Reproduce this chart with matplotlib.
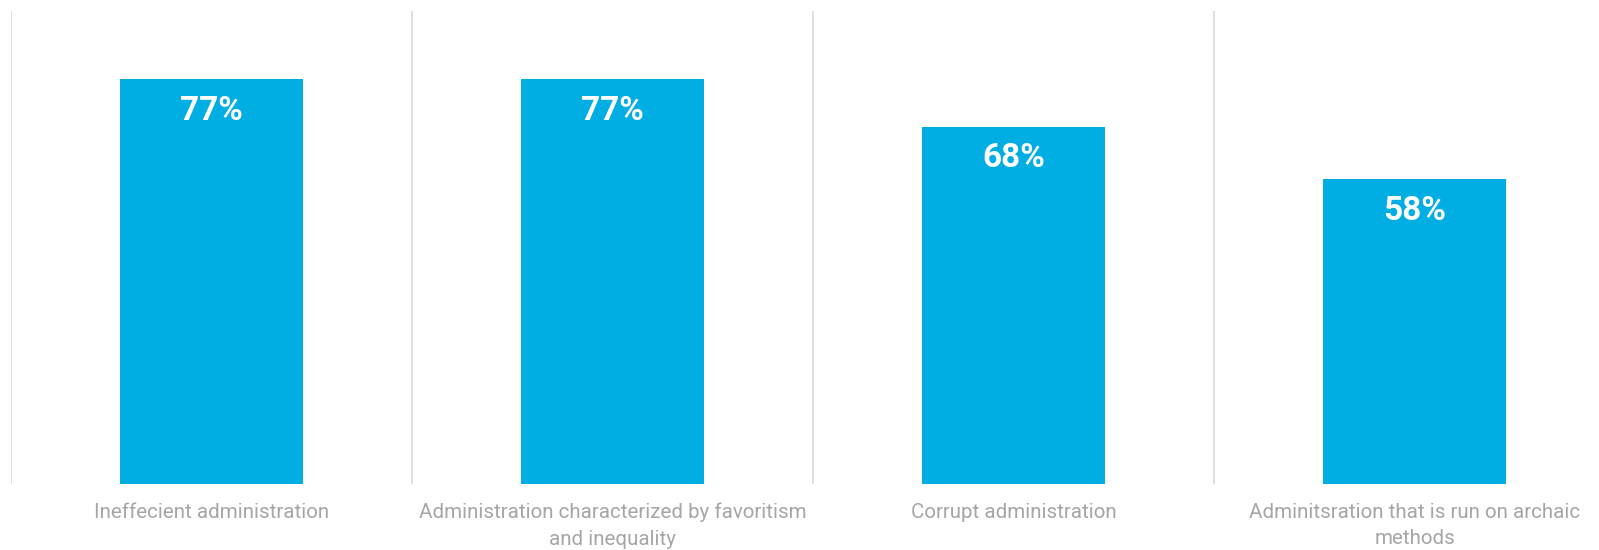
"""
bar chart - perceptions of administration
"""
import numpy as np
import matplotlib
matplotlib.use('Agg')
from matplotlib import pyplot as plt

categories = ["Ineffecient administration",
              "Administration characterized by favoritism\nand inequality",
              "Corrupt administration",
              "Adminitsration that is run on archaic\nmethods"]
values = [77, 77, 68, 58]
value_labels = ["77%", "77%", "68%", "58%"]

bar_color = '#00aee3'
grid_color = '#d9d9d9'
text_color = '#a6a6a6'

plt.rcParams['font.family'] = ['Roboto', 'DejaVu Sans']

fig = plt.figure(figsize=(15.99, 5.5), dpi=100)
# axes from left divider to the right edge
ax = fig.add_axes([11 / 1599, 66 / 550, 1588 / 1599, 473 / 550])
x = np.arange(len(categories))
ax.bar(x, values, width=0.456, color=bar_color)

ax.set_xlim(-0.5, -0.5 + 1588 / 401)
ax.set_ylim(0, 90)

# vertical dividers between categories
for b in np.arange(-0.5, len(categories)):
    ax.axvline(b, color=grid_color, lw=1.2, zorder=0)

for xi, v, lab in zip(x, values, value_labels):
    ax.text(xi, v - 6.0, lab, ha='center', va='center', color='white',
            fontsize=24, fontweight='bold')

for xi, lab in zip(x, categories):
    ax.text(xi, -3.6, lab, ha='center', va='top', color=text_color,
            fontsize=14.8, linespacing=1.5)

for s in ax.spines.values():
    s.set_visible(False)
ax.set_xticks([])
ax.set_yticks([])

plt.savefig('out.png', dpi=100)
